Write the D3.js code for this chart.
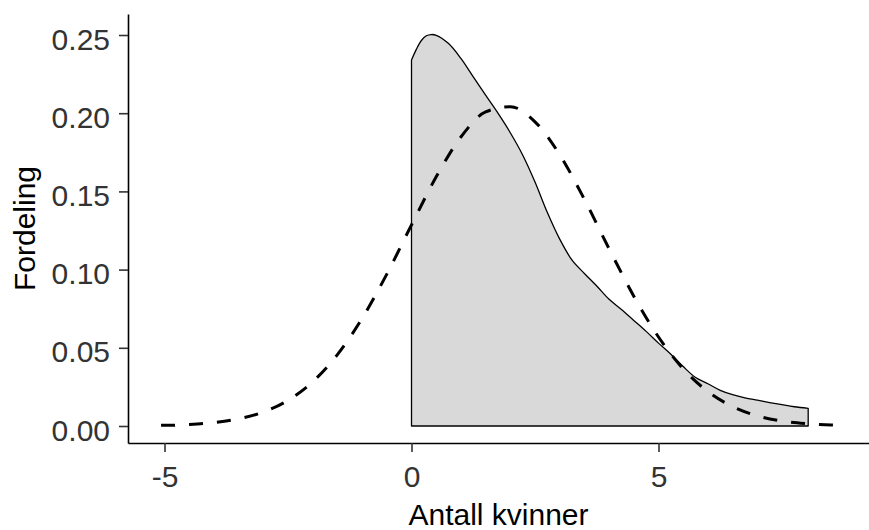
<!DOCTYPE html>
<html>
<head>
<meta charset="utf-8">
<script src="https://cdn.jsdelivr.net/npm/d3@7"></script>
<style>
  body { margin: 0; background: #ffffff; }
  svg { display: block; }
</style>
</head>
<body>
<svg id="chart" width="869" height="530"></svg>
<script>
// Fitted normal curve (dashed)
const normalX = [-5.07, -5, -4.5, -4, -3.5, -3, -2.5, -2, -1.5, -1, -0.5, 0, 0.5, 1, 1.5, 2, 2.5, 3, 3.5, 4, 4.5, 5, 5.5, 6, 6.5, 7, 7.5, 8, 8.5, 8.7];
const normalY = [0.0004, 0.0004, 0.0010, 0.0022, 0.0046, 0.0089, 0.0164, 0.0283, 0.0456, 0.0688, 0.0971, 0.1286, 0.1593, 0.1848, 0.2008, 0.2042, 0.1945, 0.1735, 0.1449, 0.1133, 0.0830, 0.0569, 0.0365, 0.0220, 0.0124, 0.0065, 0.0032, 0.0015, 0.0006, 0.0005];

// Observed density (filled area)
const densityX = [0, 0.1, 0.2, 0.3, 0.4, 0.5, 0.75, 1, 1.25, 1.5, 1.75, 2, 2.25, 2.5, 2.75, 3, 3.25, 3.5, 3.75, 4, 4.25, 4.5, 4.75, 5, 5.25, 5.5, 5.75, 6, 6.25, 6.5, 6.75, 7, 7.25, 7.5, 7.75, 8.03];
const densityY = [0.2340, 0.2410, 0.2465, 0.2495, 0.2503, 0.2498, 0.2445, 0.2350, 0.2232, 0.2115, 0.2000, 0.1875, 0.1733, 0.1560, 0.1365, 0.1195, 0.1060, 0.0975, 0.0895, 0.0810, 0.0745, 0.0675, 0.0605, 0.0530, 0.0459, 0.0380, 0.0310, 0.0270, 0.0228, 0.0200, 0.0180, 0.0165, 0.0150, 0.0136, 0.0123, 0.0113];

const xTicks = [-5, 0, 5];
const yTicks = [0, 0.05, 0.10, 0.15, 0.20, 0.25];
const xTitle = "Antall kvinner";
const yTitle = "Fordeling";

const W = 869, H = 530;
const panel = { left: 128, right: 869, top: 14, bottom: 443 };
const FONT = "'Liberation Sans', Arial, Helvetica, sans-serif";

const x = d3.scaleLinear().domain([-5.739, 9.261]).range([panel.left, panel.right]);
const y = d3.scaleLinear().domain([-0.01087, 0.26343]).range([panel.bottom, panel.top]);

const svg = d3.select("#chart");
svg.append("rect").attr("width", W).attr("height", H).attr("fill", "#ffffff");

// Density area with full outline
const dens = densityX.map((d, i) => [d, densityY[i]]);
const densLine = d3.line().x(d => x(d[0])).y(d => y(d[1])).curve(d3.curveCatmullRom.alpha(0.5));
const first = dens[0], last = dens[dens.length - 1];
const outline = `M${x(first[0])},${y(0)}` +
  `L${densLine(dens).slice(1)}` +
  `L${x(last[0])},${y(0)}Z`;
svg.append("path")
  .attr("d", outline)
  .attr("fill", "#d9d9d9")
  .attr("stroke", "#000")
  .attr("stroke-width", 1.3)
  .attr("stroke-linejoin", "round");

// Normal curve, dashed
const norm = normalX.map((d, i) => [d, normalY[i]]);
svg.append("path")
  .attr("d", d3.line().x(d => x(d[0])).y(d => y(d[1])).curve(d3.curveMonotoneX)(norm))
  .attr("fill", "none")
  .attr("stroke", "#000")
  .attr("stroke-width", 3)
  .attr("stroke-dasharray", "14,14");

// Axes
const fmtX = d => (d < 0 ? "-" + Math.abs(d) : String(d));
const xAxis = svg.append("g")
  .attr("transform", `translate(0,${panel.bottom})`)
  .call(d3.axisBottom(x).tickValues(xTicks).tickFormat(fmtX).tickSize(9).tickSizeOuter(0).tickPadding(13.5));
const yAxis = svg.append("g")
  .attr("transform", `translate(${panel.left},0)`)
  .call(d3.axisLeft(y).tickValues(yTicks).tickFormat(d3.format(".2f")).tickSize(9).tickSizeOuter(0).tickPadding(9));

[xAxis, yAxis].forEach(g => {
  g.select(".domain").attr("stroke", "#000").attr("stroke-width", 1.6);
  g.selectAll(".tick line").attr("stroke", "#333").attr("stroke-width", 1.6);
  g.selectAll(".tick text")
    .attr("fill", "#333")
    .style("font-family", FONT)
    .style("font-size", "30px");
});
yAxis.selectAll(".tick text").attr("dy", "0.47em");

// Axis titles
svg.append("text")
  .attr("x", (panel.left + panel.right) / 2)
  .attr("y", 525)
  .attr("text-anchor", "middle")
  .style("font-family", FONT)
  .style("font-size", "30px")
  .attr("fill", "#000")
  .text(xTitle);

svg.append("text")
  .attr("transform", `translate(35,${(panel.top + panel.bottom) / 2}) rotate(-90)`)
  .attr("text-anchor", "middle")
  .style("font-family", FONT)
  .style("font-size", "30px")
  .attr("fill", "#000")
  .text(yTitle);
</script>
</body>
</html>
